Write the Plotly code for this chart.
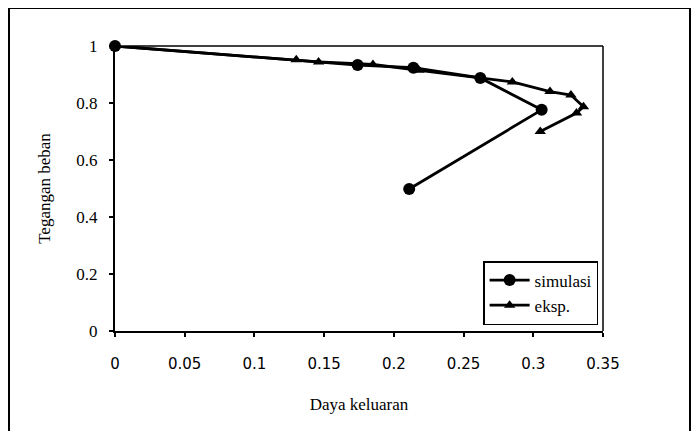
import plotly.graph_objects as go

# Data
sim_x = [0.0, 0.174, 0.214, 0.262, 0.306, 0.211]
sim_y = [1.0, 0.933, 0.924, 0.888, 0.776, 0.498]

eks_x = [0.0, 0.130, 0.146, 0.185, 0.218, 0.285, 0.312, 0.327, 0.336, 0.331, 0.305]
eks_y = [1.0, 0.952, 0.944, 0.935, 0.915, 0.874, 0.840, 0.828, 0.787, 0.765, 0.700]

x_ticks = [0, 0.05, 0.1, 0.15, 0.2, 0.25, 0.3, 0.35]
y_ticks = [0, 0.2, 0.4, 0.6, 0.8, 1]

serif = "Liberation Serif, Times New Roman, serif"

fig = go.Figure()
fig.add_trace(go.Scatter(
    x=sim_x, y=sim_y, name="simulasi", mode="lines+markers",
    line=dict(color="black", width=2.8),
    marker=dict(symbol="circle", size=12, color="black"),
    cliponaxis=False,
))
fig.add_trace(go.Scatter(
    x=eks_x, y=eks_y, name="eksp.", mode="lines+markers",
    line=dict(color="black", width=2.8),
    marker=dict(symbol="triangle-up", size=10, color="black"),
    cliponaxis=False,
))

# the page body adds an 8px margin, so the figure is 684x423 and offset by 8px
fig.update_layout(
    width=684, height=423,
    margin=dict(l=107, r=89, t=38, b=100, autoexpand=False),
    paper_bgcolor="white", plot_bgcolor="white",
    showlegend=True,
    legend=dict(
        x=0.99, y=0.021, xanchor="right", yanchor="bottom",
        bgcolor="white", bordercolor="black", borderwidth=1.5,
        font=dict(family=serif, size=17, color="black"),
        tracegroupgap=0, itemwidth=40,
    ),
    font=dict(family=serif, color="black"),
)

fig.update_xaxes(
    range=[0, 0.35], tickvals=x_ticks, ticktext=[str(v) for v in x_ticks],
    showgrid=False, zeroline=False, automargin=False,
    showline=True, linecolor="black", linewidth=2,
    ticks="outside", ticklen=4, tickcolor="black", tickwidth=1.5,
    tickfont=dict(family="DejaVu Sans, sans-serif", size=15, color="black"),
    ticklabelstandoff=14,
    title=dict(text="Daya keluaran", font=dict(family=serif, size=17, color="black"), standoff=26),
)
fig.update_yaxes(
    range=[0, 1], tickvals=y_ticks, ticktext=[str(v) for v in y_ticks],
    showgrid=False, zeroline=False, automargin=False,
    showline=True, linecolor="black", linewidth=2,
    ticks="outside", ticklen=4, tickcolor="black", tickwidth=1.5,
    tickfont=dict(family=serif, size=17, color="black"),
    ticklabelstandoff=8,
    title=dict(text="Tegangan beban", font=dict(family=serif, size=17, color="black"), standoff=21),
)

# plot-area border (top and right)
fig.add_shape(type="line", xref="paper", yref="paper", x0=0, x1=1, y0=1, y1=1,
              line=dict(color="black", width=1.5))
fig.add_shape(type="line", xref="paper", yref="paper", x0=1, x1=1, y0=0, y1=1,
              line=dict(color="black", width=1.5))
# chart-area frame
fig.add_shape(type="rect", xref="paper", yref="paper",
              x0=(9 - 115) / 488, x1=(690 - 115) / 488,
              y0=(331 - 445) / 285, y1=(331 - 8) / 285,
              line=dict(color="black", width=2))

fig.write_html("out.html")
